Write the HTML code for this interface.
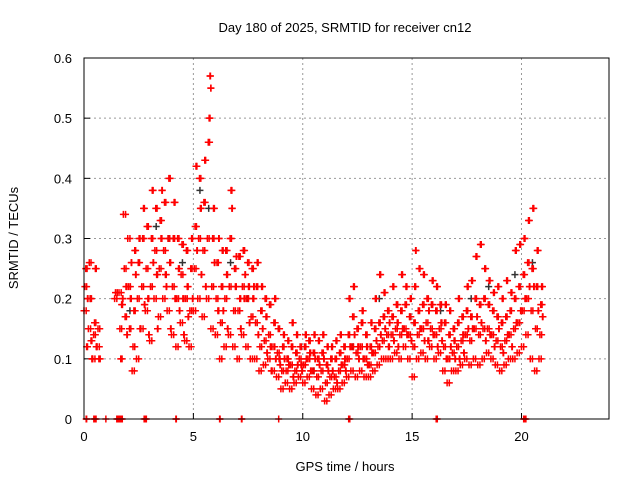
<!DOCTYPE html>
<html><head><meta charset="utf-8"><style>
body{margin:0;background:#fff}
svg{display:block;font-family:"Liberation Sans",sans-serif}
</style></head><body>
<svg id="chart" width="640" height="480" viewBox="0 0 640 480">
<rect width="640" height="480" fill="#fff"/>
<text x="345" y="32" font-size="13" text-anchor="middle">Day 180 of 2025, SRMTID for receiver cn12</text>
<text transform="translate(18,238) rotate(-90)" font-size="13" text-anchor="middle">SRMTID / TECUs</text>
<text x="345" y="471" font-size="13" text-anchor="middle">GPS time / hours</text>
<g id="grid"></g><g id="ticks"></g><g id="black"></g><g id="red"></g>
<rect x="84" y="58" width="525" height="361" fill="none" stroke="#000" stroke-width="1"/>
</svg>
<script>
const xTicks=[0,5,10,15,20];
const yTicks=[0,0.1,0.2,0.3,0.4,0.5,0.6];
const times=[0.0,0.2,0.4,0.6,1.4,1.6,1.8,2.0,2.2,2.4,2.6,2.8,3.0,3.2,3.4,3.6,3.8,4.0,4.2,4.4,4.6,4.8,5.0,5.2,5.4,5.6,5.8,6.0,6.2,6.4,6.6,6.8,7.0,7.2,7.4,7.6,7.8,8.0,8.2,8.4,8.6,8.8,9.0,9.2,9.4,9.6,9.8,10.0,10.2,10.4,10.6,10.8,11.0,11.2,11.4,11.6,11.8,12.0,12.2,12.4,12.6,12.8,13.0,13.2,13.4,13.6,13.8,14.0,14.2,14.4,14.6,14.8,15.0,15.2,15.4,15.6,15.8,16.0,16.2,16.4,16.6,16.8,17.0,17.2,17.4,17.6,17.8,18.0,18.2,18.4,18.6,18.8,19.0,19.2,19.4,19.6,19.8,20.0,20.2,20.4,20.6,20.8];
const values=[
[.18,.22,.25,.12,.2],[.15,.26,.2,.13,.1],[.1,.14,.16,.25,.12],[.12,.15,.1],
[.2,.21],[.21,.15,.1,.19,.2],[.34,.25,.17,.22,.14],[.3,.22,.15,.2,.26],[.08,.12,.18,.28,.24],[.1,.2,.26,.3,.15],
[.15,.22,.3,.35,.19],[.18,.25,.32,.2,.14],[.13,.22,.3,.38,.26],[.2,.28,.35,.24,.15],[.17,.25,.33,.3,.38],
[.2,.28,.36,.24,.22],[.18,.3,.4,.26,.15],[.14,.22,.3,.36,.2],[.12,.2,.3,.25,.18],[.16,.24,.29,.2,.14],
[.13,.2,.28,.22,.17],[.12,.18,.25,.3,.2],[.18,.25,.32,.42,.28],[.2,.3,.4,.35,.24],[.17,.28,.36,.43,.22],
[.2,.3,.46,.5,.57,.55],[.15,.22,.3,.35,.26],[.14,.2,.26,.18,.3],[.1,.16,.22,.28,.18],[.12,.2,.28,.24,.15],
[.14,.22,.3,.38,.35],[.12,.18,.25,.22,.27],[.1,.18,.27,.2,.15],[.14,.22,.28,.2,.24],[.12,.2,.26,.22,.16],
[.1,.17,.25,.2,.22],[.1,.16,.22,.26,.14],[.08,.12,.18,.22,.15],[.09,.13,.2,.17,.11],[.1,.14,.19,.12,.08],
[.08,.12,.16,.2,.1],[.07,.11,.15,.1,.09],[.05,.08,.12,.14,.1],[.06,.08,.1,.13,.09],[.05,.09,.12,.16,.07],
[.06,.08,.11,.14,.09],[.07,.1,.12,.09,.08],[.06,.09,.12,.14,.1],[.07,.1,.13,.11,.08],[.05,.08,.11,.14,.1],
[.04,.07,.1,.13,.09],[.05,.08,.11,.14,.1],[.03,.06,.09,.12,.08],[.04,.07,.1,.12,.08],[.05,.07,.1,.13,.06],
[.05,.08,.11,.14,.09],[.06,.09,.12,.1,.08],[.07,.1,.14,.2,.12],[.08,.12,.17,.22,.14],[.07,.11,.15,.12,.1],
[.08,.12,.16,.18,.1],[.07,.1,.14,.12,.09],[.07,.09,.12,.16,.11],[.08,.11,.15,.2,.13],[.09,.12,.16,.24,.14],
[.1,.13,.17,.21,.15],[.1,.14,.18,.12,.16],[.1,.14,.17,.22,.13],[.11,.15,.19,.16,.12],[.1,.14,.18,.24,.15],
[.12,.15,.19,.22,.14],[.1,.14,.17,.2,.13],[.07,.12,.16,.22,.28],[.1,.14,.18,.25,.15],[.11,.15,.19,.24,.13],
[.1,.16,.2,.13,.18],[.12,.15,.19,.23,.14],[.1,.14,.18,.22,.12],[.11,.15,.19,.16,.13],[.08,.12,.16,.19,.1],
[.06,.1,.14,.18,.12],[.08,.11,.15,.13,.1],[.08,.12,.16,.2,.1],[.09,.13,.17,.14,.11],[.1,.14,.18,.22,.15],
[.09,.13,.17,.23,.15],[.1,.15,.2,.27,.17],[.09,.14,.19,.29,.16],[.1,.15,.2,.25,.13],[.11,.15,.19,.23,.14],
[.1,.14,.18,.21,.12],[.09,.13,.17,.22,.15],[.08,.12,.16,.2,.11],[.09,.13,.17,.23,.14],[.1,.14,.18,.21,.12],
[.1,.15,.2,.28,.16],[.11,.16,.22,.29,.18],[.12,.18,.24,.3,.2],[.14,.2,.26,.33,.22],[.1,.18,.25,.35,.22],
[.08,.15,.22,.28,.18],[.1,.14,.19,.22,.17]];
const zeroTimes=[0.1,0.12,0.45,0.5,0.55,1.0,1.5,1.55,1.6,1.65,1.7,1.75,2.75,2.8,2.85,4.2,4.22,6.2,6.22,7.2,7.22,8.9,12.1,12.15,16.1,16.15,20.1,20.15,20.2];
const blackTimes=[0.3,2.1,3.3,3.9,4.5,5.3,5.7,6.7,7.5,9.3,10.5,12.3,13.5,14.9,16.3,17.7,18.5,19.7,20.5];
const blackValues=[.2,.18,.32,.3,.26,.38,.35,.26,.2,.1,.08,.12,.2,.17,.18,.2,.22,.24,.26];

const NS="http://www.w3.org/2000/svg";
const X0=84,X1=609,Y0=419,Y1=58;
const xs=t=>X0+t*(X1-X0)/24;
const ys=v=>Y0-v*(Y0-Y1)/0.6;
function mk(tag,attrs,parent){const e=document.createElementNS(NS,tag);for(const k in attrs)e.setAttribute(k,attrs[k]);parent.appendChild(e);return e;}
const grid=document.getElementById('grid'),ticks=document.getElementById('ticks');
xTicks.forEach(t=>{
  if(t>0){const g=mk('line',{x1:xs(t),x2:xs(t),y1:Y1,y2:Y0,stroke:'#999','stroke-dasharray':'2,3'},grid);
  
  }
  const tl=mk('text',{x:xs(t),y:Y0+22,'font-size':13,'text-anchor':'middle'},ticks);tl.textContent=t;
  
  
  mk('line',{x1:xs(t),x2:xs(t),y1:Y0,y2:Y0-6,stroke:'#000'},ticks);
});
yTicks.forEach(v=>{
  if(v>0&&v<0.6){const g=mk('line',{x1:X0,x2:X1,y1:ys(v),y2:ys(v),stroke:'#999','stroke-dasharray':'2,3'},grid);
  
  }
  const tl=mk('text',{x:X0-12,y:ys(v)+5,'font-size':13,'text-anchor':'end'},ticks);tl.textContent=v===0?'0':v.toFixed(1);
  
  
  mk('line',{x1:X0,x2:X0+6,y1:ys(v),y2:ys(v),stroke:'#000'},ticks);
});
function cross(t,v,col,parent){
  const x=xs(t),y=ys(v);
  const p=mk('path',{d:`M${x-3.5},${y}H${x+3.5}M${x},${y-3.5}V${y+3.5}`,stroke:col,'stroke-width':1.5,fill:'none'},parent);
  
  
}
const blk=document.getElementById('black'),red=document.getElementById('red');
blackTimes.forEach((t,i)=>cross(t,blackValues[i],'#333',blk));
times.forEach((t,i)=>values[i].forEach((v,j)=>{cross(t+j*0.04,v,'#f00',red);cross(t+0.1+j*0.02,v,'#f00',red);}));
zeroTimes.forEach(t=>cross(t,0,'#f00',red));
</script>
</body></html>
